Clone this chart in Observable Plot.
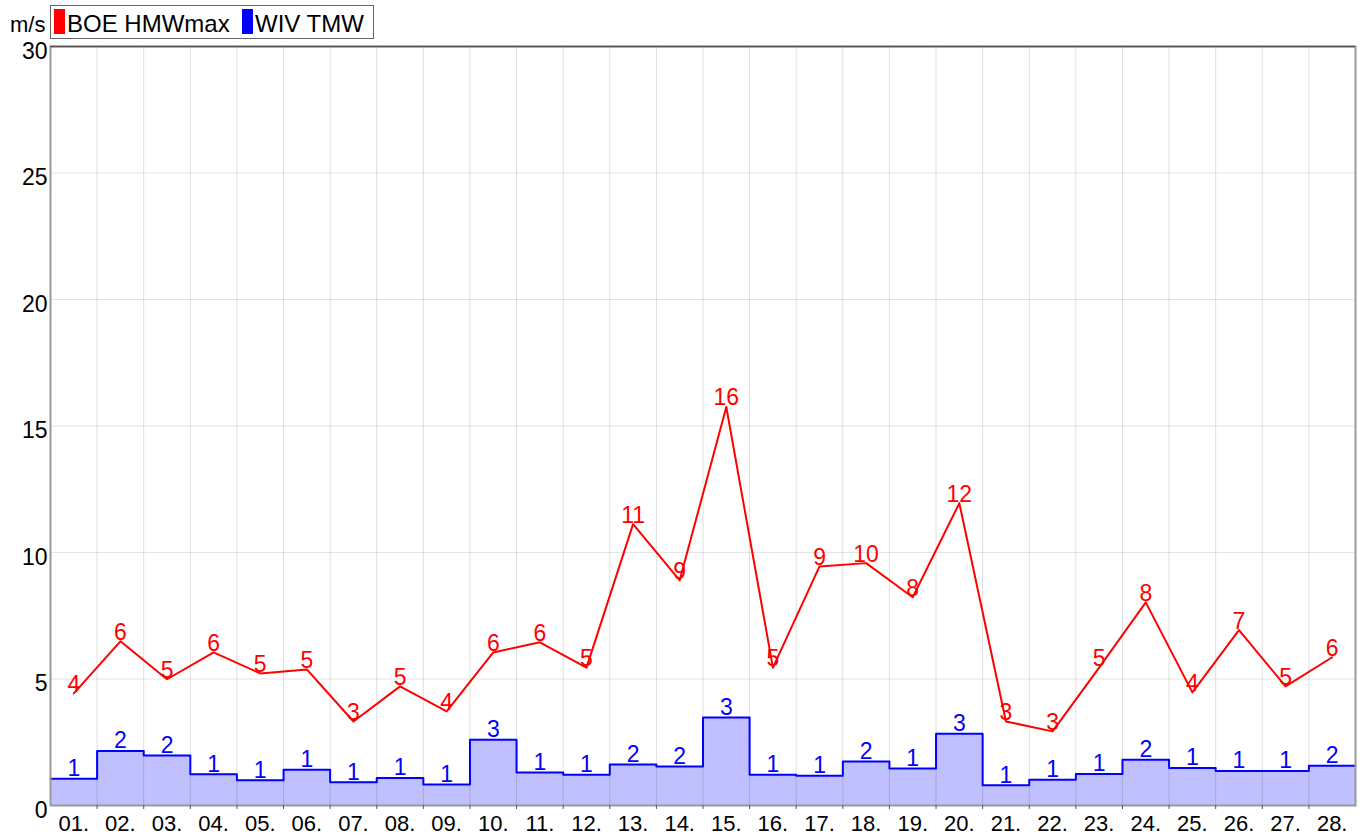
<!DOCTYPE html>
<html><head><meta charset="utf-8">
<script src="https://cdn.jsdelivr.net/npm/d3@7"></script>
<script src="https://cdn.jsdelivr.net/npm/@observablehq/plot@0.6"></script>
<style>
body{margin:0;background:#fff;font-family:"Liberation Sans",Arial,sans-serif;}
#head{position:relative;height:40px;}
#unit{position:absolute;left:10px;top:12px;font-size:22px;color:#000;}
#legend{position:absolute;left:50px;top:5px;width:324px;height:34px;border:1px solid #666;box-sizing:border-box;font-size:24px;}
.sw{position:absolute;top:3px;width:11px;height:25px;}
.lt{position:absolute;top:3px;line-height:30px;white-space:nowrap;}
#chart svg{overflow:visible;display:block;}
</style></head><body>
<div id="head">
  <div id="unit">m/s</div>
  <div id="legend">
    <div class="sw" style="left:3px;background:#ff0000"></div><div class="lt" style="left:16px">BOE HMWmax</div>
    <div class="sw" style="left:191px;background:#0000ff"></div><div class="lt" style="left:204px">WIV TMW</div>
  </div>
</div>
<div id="chart"></div>
<script>
const days = d3.range(1, 29);
const dayLabels = days.map(d => String(d).padStart(2, "0") + ".");
const boeHMWmax = [4.43,6.49,4.99,6.05,5.22,5.38,3.32,4.71,3.72,6.05,6.45,5.45,11.12,8.9,15.75,5.45,9.45,9.58,8.23,11.95,3.32,2.93,5.45,8.03,4.47,6.93,4.71,5.86];
const wivTMW = [1.06,2.15,1.98,1.24,1.0,1.41,0.92,1.09,0.83,2.6,1.3,1.22,1.62,1.54,3.48,1.22,1.18,1.74,1.46,2.84,0.8,1.02,1.25,1.81,1.48,1.36,1.36,1.57];
const yTicks = [0,5,10,15,20,25,30];

const red = days.map((d,i) => ({day:d, v:boeHMWmax[i]}));
const blue = days.map((d,i) => ({day:d, v:wivTMW[i]}));
const steps = blue.flatMap(o => [{x:o.day-0.5, v:o.v},{x:o.day+0.5, v:o.v}]);
const bounds = d3.range(1.5, 28.5, 1);

const plot = Plot.plot({
  width:1368, height:799,
  marginLeft:50, marginRight:13, marginTop:6, marginBottom:34,
  style:{fontFamily:"'Liberation Sans', Arial, sans-serif", background:"transparent"},
  x:{type:"linear", domain:[0.5,28.5], axis:null},
  y:{domain:[0,30], axis:null},
  marks:[
    Plot.areaY(steps, {x:"x", y1:0, y2:"v", fill:"#c0c0ff"}),
    Plot.ruleX(bounds, {stroke:"#000", strokeOpacity:0.13}),
    Plot.ruleY(yTicks.filter(t=>t>0&&t<30), {stroke:"#000", strokeOpacity:0.1}),
    Plot.lineY(steps, {x:"x", y:"v", stroke:"#0000ff", strokeWidth:2}),
    Plot.line(red, {x:"day", y:"v", stroke:"#ff0000", strokeWidth:2}),
    Plot.text(red, {x:"day", y:"v", text:d=>String(Math.round(d.v)), fill:"#ff0000", fontSize:23, dy:-9}),
    Plot.text(blue, {x:"day", y:"v", text:d=>String(Math.round(d.v)), fill:"#0000ff", fontSize:23, dy:-10}),
    Plot.frame({stroke:"#999", strokeWidth:2}),
    Plot.ruleY([30], {stroke:"#555", strokeWidth:1.5}),
    Plot.axisX(bounds, {tickSize:4, tickFormat:()=>"", stroke:"#555", label:null}),
    Plot.axisX(days, {tickSize:0, tickPadding:10, tickFormat:(d)=>dayLabels[d-1], fontSize:22, fill:"#000", label:null}),
    Plot.axisY(yTicks, {tickSize:0, tickPadding:3, fontSize:23, fill:"#000", dy:5, label:null})
  ]
});
document.getElementById("chart").appendChild(plot);
</script>
</body></html>
